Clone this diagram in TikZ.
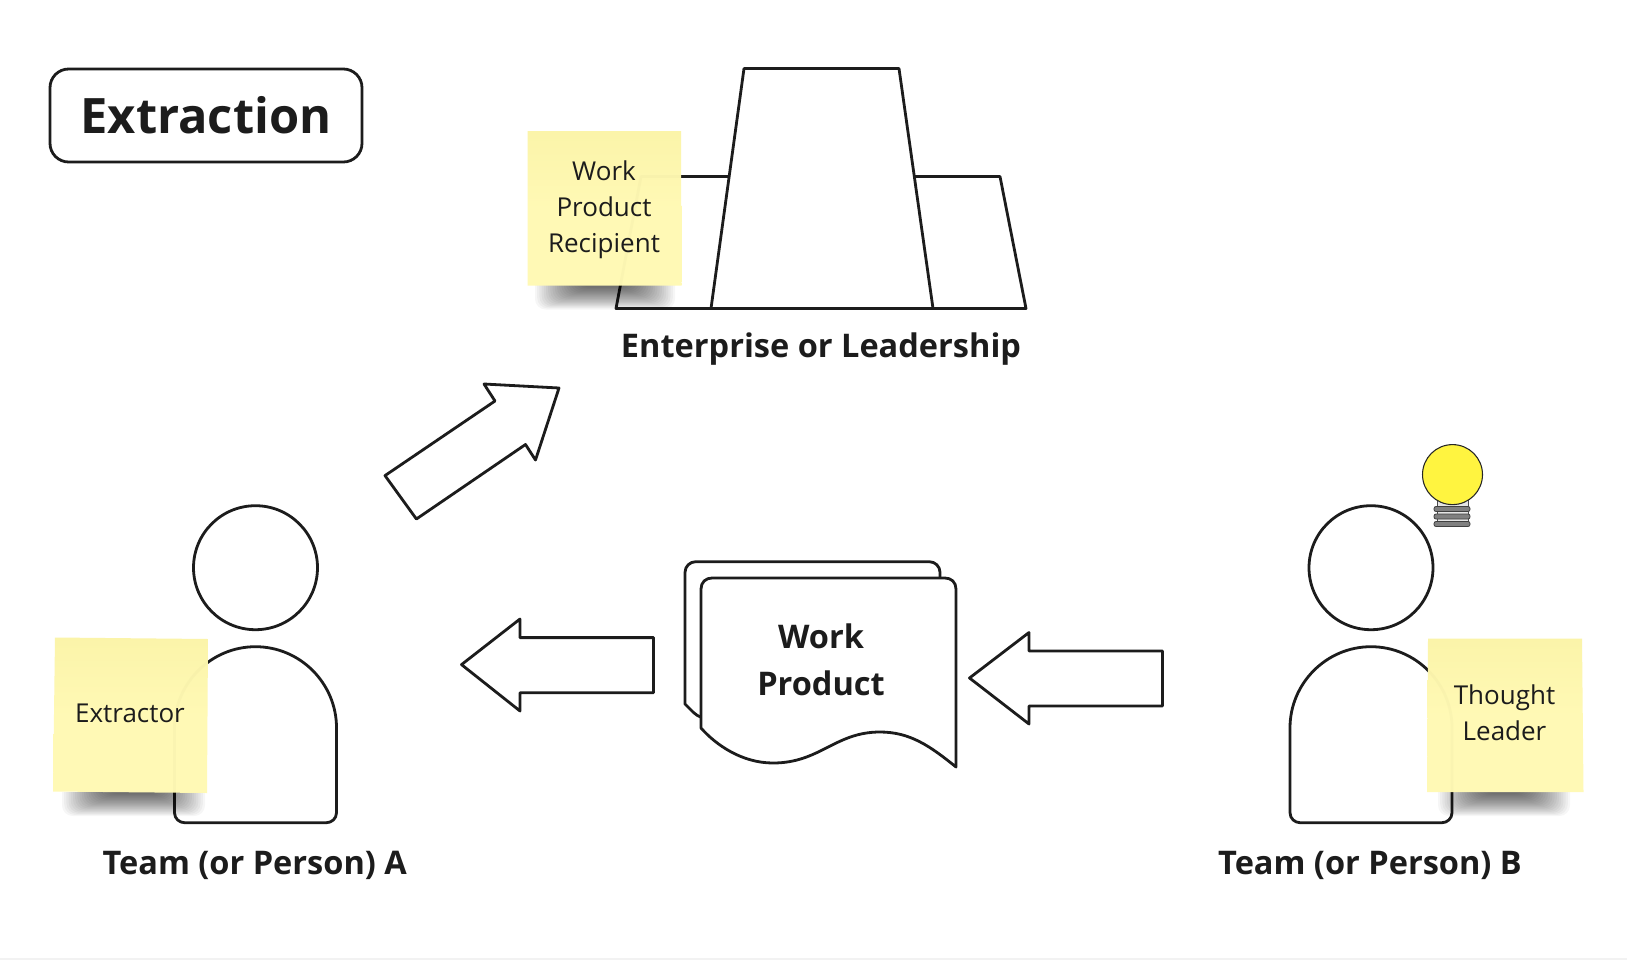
\documentclass[tikz,border=0pt]{standalone}
\usepackage{fontspec}
\setmainfont{Open Sans}
\usetikzlibrary{calc}
\definecolor{inkdark}{HTML}{1C1C1C}
\definecolor{notetop}{HTML}{FBF4A8}
\definecolor{notelow}{HTML}{FFF9B4}
\definecolor{bulbyellow}{HTML}{FFF440}
\tikzset{
  outline/.style={draw=inkdark,line width=2.1pt,fill=white,line join=round},
  notelabel/.style={text=inkdark,font=\fontsize{19.5}{27}\selectfont,align=center},
  boldlabel/.style={text=inkdark,font=\fontsize{24.4}{35.25}\selectfont\bfseries,align=center},
  stickynote/.style={top color=notetop,bottom color=notelow,middle color=notelow,opacity=.98},
}
% head and body of one person, centred on the head
\newcommand{\drawperson}[2]{
  \begin{scope}[shift={(#1,#2)}]
    \draw[outline] (0,0) circle (62);
    \draw[outline] (-81,160) .. controls (-81,116) and (-45,79) .. (0,79)
      .. controls (45,79) and (81,116) .. (81,160) -- (81,245)
      .. controls (81,251) and (76,255) .. (71,255) -- (-71,255)
      .. controls (-76,255) and (-81,251) .. (-81,245) -- cycle;
  \end{scope}
}
% soft shadow below a note: left end, right end, lower edge of the note
\newcommand{\noteshadow}[3]{
  \begin{scope}
    \clip (#1-40,#3) rectangle (#2+40,#3+40);
    \foreach \g in {0,...,20}
      \fill[black,opacity=.035,rounded corners=8pt]
        (#1+\g*2.2,#3-20) rectangle (#2-\g*2.2,#3+24-\g*1.1);
  \end{scope}
}

\begin{document}
\begin{tikzpicture}[x=0.75pt,y=-0.75pt]
  \useasboundingbox (0,0) rectangle (1627,960);
  \fill[white] (0,0) rectangle (1627,960);
  \fill[black!5] (0,958) rectangle (1627,960);

  % title
  \draw[outline,rounded corners=14pt] (50,69) rectangle (362,162);
  \node[text=inkdark,font=\fontsize{36.6}{40}\selectfont\bfseries] (title) at (206,115.5) {Extraction};

  % enterprise
  \draw[outline] (641,176.5) -- (1000,176.5) -- (1026,308.5) -- (616,308.5) -- cycle;
  \draw[outline] (744,68.5) -- (899,68.5) -- (933,308.5) -- (711,308.5) -- cycle;
  \node[boldlabel] (enterprise) at (821,349) {Enterprise or Leadership};
  \noteshadow{535}{675}{285.5}
  \shade[stickynote] (527.5,131) -- (681,131) -- (681.5,285.5) -- (527.5,285.5) -- cycle;
  \node[notelabel] (recipient) at (604,210) {Work\\Product\\Recipient};

  % arrows
  \draw[outline] (385,475.6) -- (495,401) -- (484,384) -- (559,388) -- (535.5,460) -- (525.5,444.5) -- (416.4,519) -- cycle;
  \draw[outline] (461.5,664.6) -- (520,619) -- (520,637.6) -- (653.5,637.6) -- (653.5,692.7) -- (520,692.7) -- (520,711) -- cycle;
  \draw[outline] (969.5,678) -- (1029,632.5) -- (1029,651) -- (1162.5,651) -- (1162.5,706) -- (1029,706) -- (1029,724) -- cycle;

  % work product, two sheets
  \draw[outline,rounded corners=8pt] (685,704) -- (685,561.7) -- (940,561.7) -- (940,600) -- (940,715) -- (701,720) [sharp corners] -- cycle;
  \draw[outline] (701,728) -- (701,589) .. controls (701,582) and (706,578) .. (712,578)
    -- (945,578) .. controls (951,578) and (956,582) .. (956,589) -- (956,767)
    .. controls (930,746) and (910,732) .. (880,732)
    .. controls (835,732) and (820,763) .. (773,763)
    .. controls (742,763) and (716,745) .. (701,728) -- cycle;
  \node[boldlabel] (product) at (821,659.5) {Work\\Product};

  % team a
  \drawperson{255.5}{567.7}
  \noteshadow{62}{205}{792}
  \shade[stickynote] (55,637.5) -- (208,639) -- (207,793) -- (53,791.5) -- cycle;
  \node[notelabel] (extractor) at (130,713) {Extractor};
  \node[boldlabel] (teama) at (254.7,865.5) {Team (or Person) A};

  % team b
  \drawperson{1371}{567.7}
  \noteshadow{1438}{1570}{792}
  \shade[stickynote] (1428,638.7) -- (1582,638.7) -- (1583.5,792) -- (1427,792) -- cycle;
  \node[notelabel] (leader) at (1504.5,712.5) {Thought\\Leader};
  \node[boldlabel] (teamb) at (1370,865.5) {Team (or Person) B};

  % light bulb
  \draw[draw=black!70,fill=black!10,line width=.6pt] (1437,495) rectangle (1468,524);
  \foreach \r in {509,516.5,524}
    \draw[draw=black!75,fill=black!50,line width=.6pt,rounded corners=1.5pt] (1434,\r-2.5) rectangle (1470,\r+2.5);
  \draw[draw=black!85,fill=bulbyellow,line width=.8pt] (1452.5,474.6) circle (30);
\end{tikzpicture}
\end{document}
